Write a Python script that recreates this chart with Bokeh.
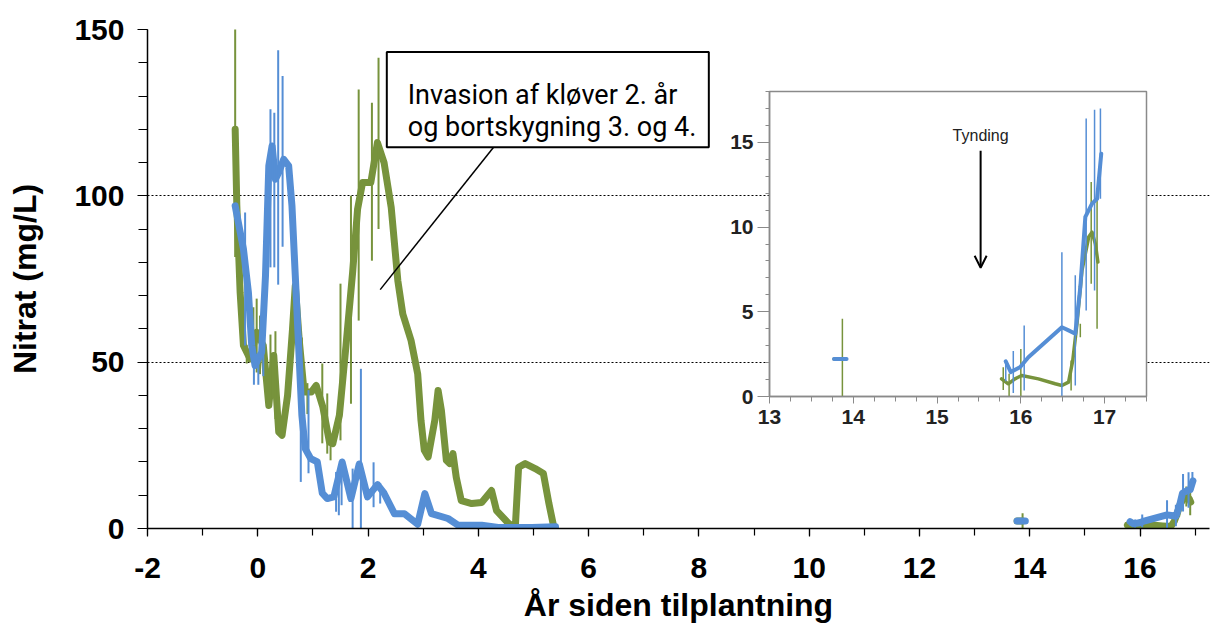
import math
from bokeh.plotting import figure
from bokeh.models import (Range1d, SingleIntervalTicker, FixedTicker, BoxAnnotation,
                          Label, Arrow, OpenHead, GridBox, PrintfTickFormatter)
from bokeh.embed import file_html
from bokeh.resources import INLINE

nan = float("nan")

# ---- early period (years since planting), nitrate mg/L ----
green_x = [-0.41, -0.38, -0.32, -0.26, -0.14, -0.02, 0.10, 0.20, 0.29, 0.38, 0.44, 0.54, 0.63, 0.68,
           0.75, 0.84, 0.97, 1.06, 1.18, 1.30, 1.36, 1.48, 1.60, 1.72, 1.81, 1.90, 2.05, 2.17, 2.29,
           2.42, 2.54, 2.63, 2.78, 2.90, 2.96, 3.02, 3.09, 3.21, 3.27, 3.33, 3.42, 3.48, 3.54, 3.60,
           3.69, 3.88, 4.06, 4.24, 4.33, 4.55, 4.67, 4.73, 4.85, 5.03, 5.18, 5.28, 5.37]
green_y = [120, 97, 71, 55, 51, 59, 55, 37, 52, 29, 28, 40, 60, 73,
           57, 41, 41, 43, 36.5, 26, 25.5, 34, 55, 77, 96, 104, 104, 116, 110,
           96.5, 74.5, 64.5, 56.5, 46.5, 32.5, 23.5, 21.5, 32.5, 41.5, 35.5, 20.5, 19.5, 22.5, 15.3,
           8.4, 7.5, 7.8, 11.4, 5.4, 1.5, 0.3, 18.4, 19.5, 18, 16.5, 7.5, 0.3]

blue_x = [-0.41, -0.26, -0.17, -0.11, -0.05, 0.07, 0.14, 0.20, 0.26, 0.32, 0.38, 0.47, 0.56, 0.62,
          0.68, 0.74, 0.80, 0.86, 0.96, 1.08, 1.17, 1.26, 1.38, 1.53, 1.69, 1.84, 1.99, 2.17, 2.29,
          2.48, 2.66, 2.90, 3.03, 3.15, 3.45, 3.63, 4.06, 4.36, 4.97, 5.40]
blue_y = [97, 84, 71, 55, 49, 53, 76, 109, 115, 105, 107, 111, 109, 97,
          76, 55, 34, 24, 21, 20, 10.6, 9, 9.5, 20, 9, 19.4, 9.5, 13.2, 10.6,
          4.4, 4.4, 1.3, 10.5, 4.5, 3, 1, 1, 0.3, 0.3, 0.5]

green_err_x = [-0.41, -0.20, -0.08, -0.02, 0.04, 0.23, 0.32, 0.80, 0.90, 1.17, 1.26, 1.32, 1.50,
               1.69, 1.83, 2.07, 2.19]
green_err_lo = [81.6, 49.6, 48.9, 46.9, 46.4, 36.5, 32.9, 37.6, 34.4, 25.6, 22.5, 20.5, 26.5,
                37.5, 62.5, 80.5, 90]
green_err_hi = [152, 55.2, 66.5, 69.1, 64, 58.3, 59.3, 57.4, 43.7, 49.6, 40.6, 26.6, 73.6,
                100, 132, 128, 141.5]

blue_err_x = [-0.23, -0.07, 0.01, 0.10, 0.23, 0.30, 0.37, 0.45, 0.78, 0.92, 1.42, 1.47, 1.52,
              1.72, 1.87, 2.10, 2.22]
blue_err_lo = [55, 43.2, 43.2, 45.8, 78.5, 78.5, 73.3, 84.7, 14, 16.6, 5, 4, 7,
               0, 0, 6.4, 7.5]
blue_err_hi = [95, 48.9, 51, 54, 126, 125, 143.8, 136, 58, 41.6, 17, 14, 18,
               18, 48, 19.9, 13.7]

# ---- late period (also shown enlarged in the inset) ----
late_blue_x = [13.77, 13.92, nan, 15.82, 15.88, 15.99, 16.09, 16.49, 16.57, 16.65, 16.71, 16.77,
               16.85, 16.91, 16.96]
late_blue_y = [2.22, 2.22, nan, 2.07, 1.44, 1.73, 2.32, 4.09, 3.90, 3.70, 6.46, 10.6,
               11.38, 11.67, 14.33]
late_green_x = [13.77, 13.87, nan, 15.77, 15.85, 15.93, 16.01, 16.21, 16.41, 16.49, 16.57, 16.62,
                16.67, 16.73, 16.81, 16.85, 16.89, 16.92]
late_green_y = [2.22, 2.22, nan, 1.04, 0.75, 1.04, 1.24, 1.04, 0.75, 0.65, 0.85, 2.13,
                4.29, 7.44, 9.41, 9.70, 9.00, 7.93]

late_blue_err_x = [15.82, 15.91, 16.04, 16.49, 16.65, 16.78, 16.88, 16.95]
late_blue_err_lo = [0.9, 0.2, 0.35, 0.0, 0.65, 5.08, 6.26, 11.67]
late_blue_err_hi = [2.1, 2.68, 4.19, 8.52, 7.15, 16.4, 16.93, 17.0]
late_green_err_x = [13.87, 15.79, 15.86, 16.00, 16.60, 16.71, 16.84, 16.91]
late_green_err_lo = [0.0, 0.39, 0.0, 0.0, 0.35, 3.5, 6.65, 4.0]
late_green_err_hi = [4.59, 1.73, 1.34, 2.81, 2.13, 4.29, 12.66, 11.77]

x_title = "År siden tilplantning"
y_title = "Nitrat (mg/L)"
note_lines = ["Invasion af kløver 2. år", "og bortskygning 3. og 4."]
inset_note = "Tynding"

GREEN = "#77933C"
BLUE = "#558ED5"

# ---------------- main figure ----------------
p = figure(width=1214, height=628, x_range=Range1d(-2, 17.26), y_range=Range1d(0, 150),
           output_backend="svg", toolbar_location=None,
           min_border_left=147, min_border_right=4, min_border_top=29, min_border_bottom=100,
           outline_line_color=None, background_fill_color="white", border_fill_color="white")

p.xaxis.ticker = SingleIntervalTicker(interval=2, num_minor_ticks=2)
p.yaxis.ticker = SingleIntervalTicker(interval=50, num_minor_ticks=5)
p.xaxis.formatter = PrintfTickFormatter(format="%d")
p.yaxis.formatter = PrintfTickFormatter(format="%d")
p.xaxis.axis_label = x_title
p.yaxis.axis_label = y_title
for ax in (p.xaxis, p.yaxis):
    ax.axis_line_color = "black"
    ax.axis_line_width = 1.5
    ax.major_tick_line_color = "black"
    ax.minor_tick_line_color = "black"
    ax.major_tick_line_width = 1.2
    ax.minor_tick_line_width = 1.2
    ax.major_tick_in = 0
    ax.minor_tick_in = 0
    ax.major_label_text_font = "Liberation Sans"
    ax.major_label_text_font_style = "bold"
    ax.major_label_text_font_size = "30px"
    ax.major_label_text_color = "black"
    ax.axis_label_text_font = "Liberation Sans"
    ax.axis_label_text_font_style = "bold"
    ax.axis_label_text_font_size = "32px"
    ax.axis_label_text_color = "black"
p.xaxis.major_tick_out = 8
p.xaxis.minor_tick_out = 7
p.yaxis.major_tick_out = 10
p.yaxis.minor_tick_out = 9
p.xaxis.major_label_standoff = 21
p.yaxis.major_label_standoff = 13
p.xaxis.axis_label_standoff = 6
p.yaxis.axis_label_standoff = 28

p.xgrid.visible = False
p.ygrid.ticker = FixedTicker(ticks=[50, 100, 150])
p.ygrid.grid_line_color = "black"
p.ygrid.grid_line_dash = "2 2"
p.ygrid.grid_line_width = 1

# series
p.line(green_x, green_y, line_color=GREEN, line_width=7, line_join="round", line_cap="round")
p.segment(x0=green_err_x, y0=green_err_lo, x1=green_err_x, y1=green_err_hi, line_color=GREEN, line_width=2)
p.line(blue_x, blue_y, line_color=BLUE, line_width=7, line_join="round", line_cap="round")
p.segment(x0=blue_err_x, y0=blue_err_lo, x1=blue_err_x, y1=blue_err_hi, line_color=BLUE, line_width=2)

p.line(late_green_x, late_green_y, line_color=GREEN, line_width=7, line_join="round", line_cap="round")
p.segment(x0=late_green_err_x, y0=late_green_err_lo, x1=late_green_err_x, y1=late_green_err_hi,
          line_color=GREEN, line_width=2)
p.line(late_blue_x, late_blue_y, line_color=BLUE, line_width=7, line_join="round", line_cap="round")
p.segment(x0=late_blue_err_x, y0=late_blue_err_lo, x1=late_blue_err_x, y1=late_blue_err_hi,
          line_color=BLUE, line_width=2)

# callout
p.segment(x0=[4.28], y0=[114.7], x1=[2.22], y1=[71.8], line_color="black", line_width=1.5)
p.add_layout(BoxAnnotation(left=2.34, right=8.18, top=143.2, bottom=114.6, fill_color="white",
                           fill_alpha=1, line_color="black", line_width=2, line_alpha=1))
p.add_layout(Label(x=2.72, y=130.2, text=note_lines[0], text_font="Roboto",
                   text_font_size="27px", text_baseline="alphabetic", text_color="black"))
p.add_layout(Label(x=2.72, y=120.7, text=note_lines[1], text_font="Roboto",
                   text_font_size="27px", text_baseline="alphabetic", text_color="black"))

# ---------------- inset ----------------
GRAY = "#8a8a8a"
ins = figure(frame_width=377, frame_height=305, x_range=Range1d(13, 17.5), y_range=Range1d(0, 18),
             output_backend="svg", toolbar_location=None,
             min_border_left=50, min_border_right=5, min_border_top=5, min_border_bottom=40,
             background_fill_color="white", border_fill_color=None,
             outline_line_color=GRAY, outline_line_width=1.5)
ins.xgrid.visible = False
ins.ygrid.visible = False
ins.xaxis.ticker = SingleIntervalTicker(interval=1, num_minor_ticks=4)
ins.yaxis.ticker = SingleIntervalTicker(interval=5, num_minor_ticks=5)
for ax in (ins.xaxis, ins.yaxis):
    ax.axis_line_color = GRAY
    ax.axis_line_width = 1.5
    ax.major_tick_line_color = GRAY
    ax.minor_tick_line_color = GRAY
    ax.major_tick_in = 0
    ax.minor_tick_in = 0
    ax.major_label_text_font = "Liberation Sans"
    ax.major_label_text_font_style = "bold"
    ax.major_label_text_font_size = "21px"
    ax.major_label_text_color = "#222222"
ins.xaxis.major_tick_out = 7
ins.xaxis.minor_tick_out = 5
ins.yaxis.major_tick_out = 12
ins.yaxis.minor_tick_out = 4
ins.xaxis.major_label_standoff = 6
ins.yaxis.major_label_standoff = 4

ins.line(late_green_x, late_green_y, line_color=GREEN, line_width=3.5, line_join="round", line_cap="round")
ins.segment(x0=late_green_err_x, y0=late_green_err_lo, x1=late_green_err_x, y1=late_green_err_hi,
            line_color=GREEN, line_width=1.5)
ins.line(late_blue_x, late_blue_y, line_color=BLUE, line_width=4, line_join="round", line_cap="round")
ins.segment(x0=late_blue_err_x, y0=late_blue_err_lo, x1=late_blue_err_x, y1=late_blue_err_hi,
            line_color=BLUE, line_width=1.5)

ins.add_layout(Label(x=15.52, y=15.4, text=inset_note, text_font="Liberation Sans", text_font_size="16px",
                     text_align="center", text_baseline="middle", text_color="#222222"))
ins.add_layout(Arrow(x_start=15.52, y_start=14.5, x_end=15.52, y_end=7.6, line_width=2,
                     line_color="black", end=OpenHead(size=12, line_width=2, line_color="black")))

layout = GridBox(children=[(p, 0, 0, 2, 2), (ins, 1, 1)],
                 rows=["86px", "auto"], cols=["719px", "auto"])

open("out.html", "w").write(file_html(layout, INLINE))
